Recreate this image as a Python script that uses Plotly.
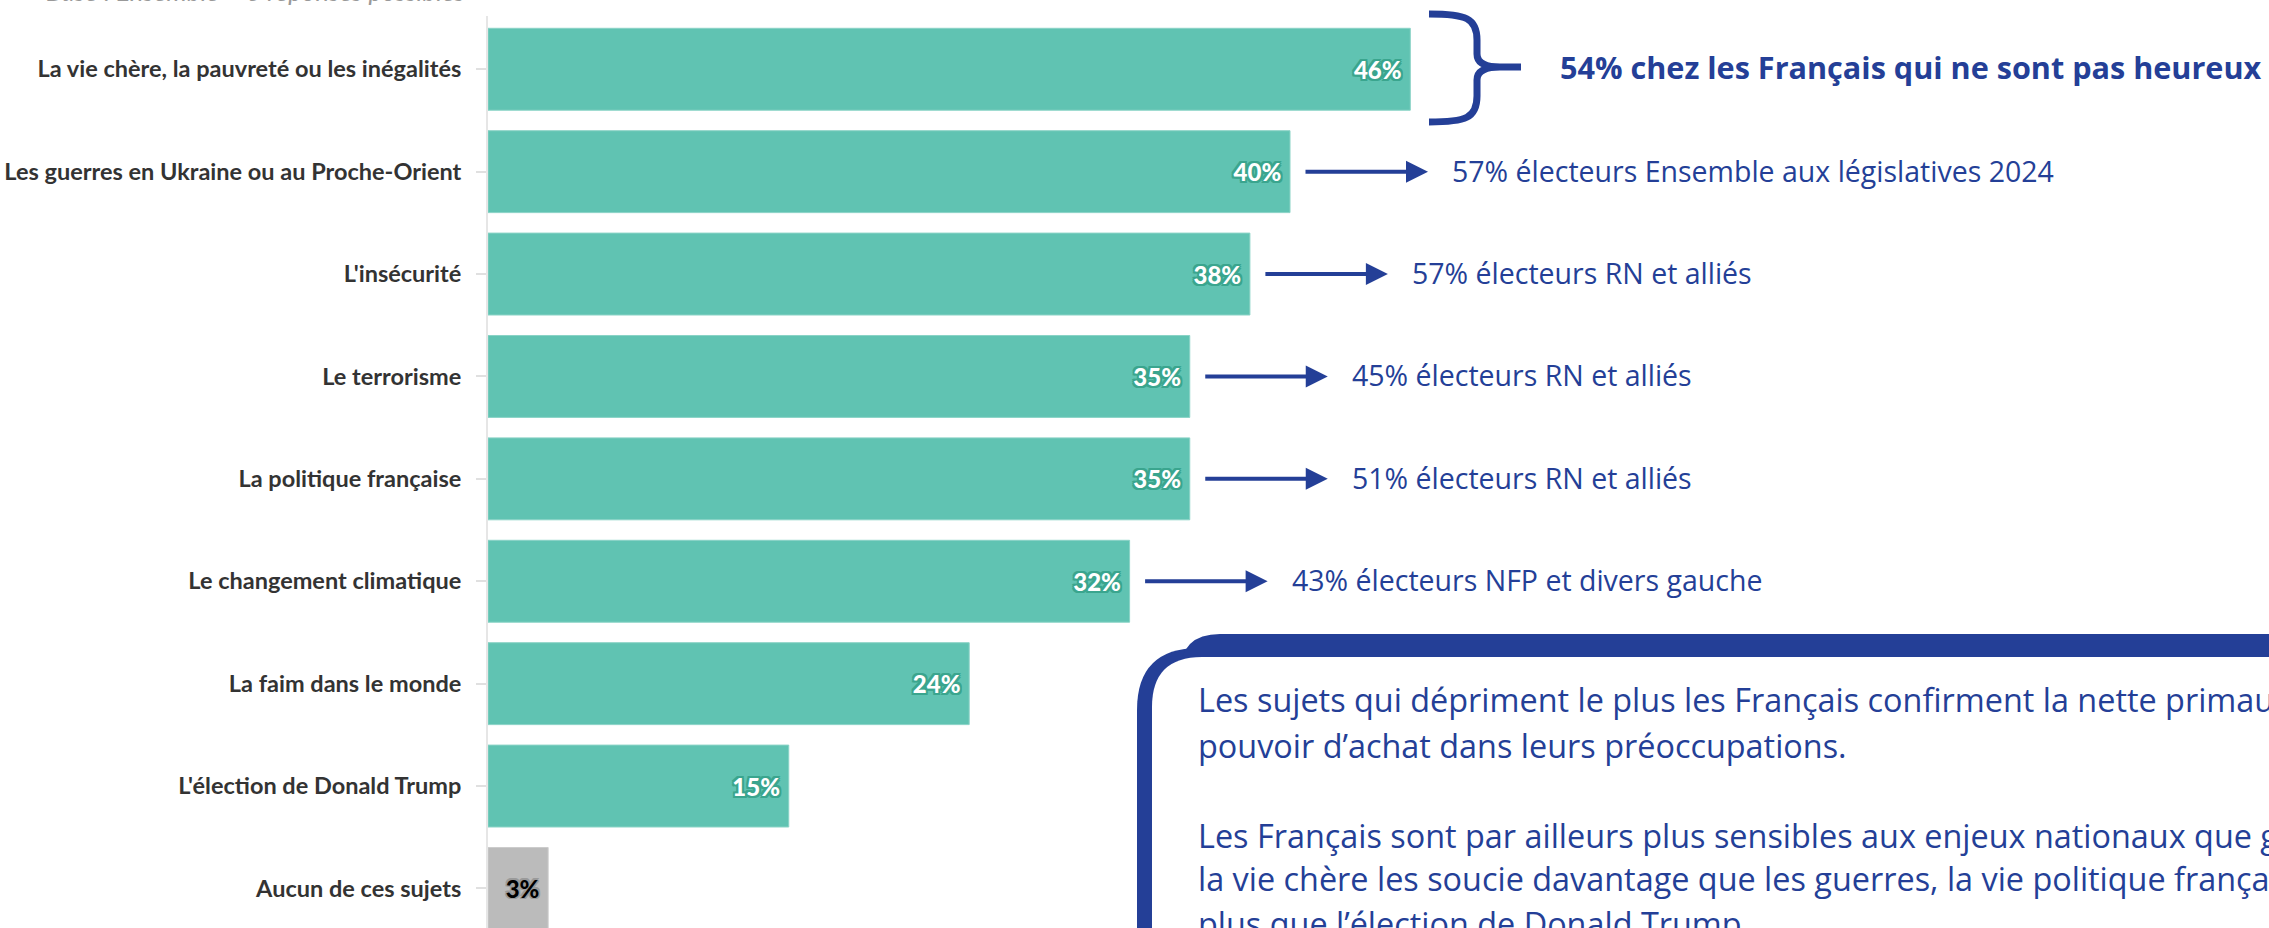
import plotly.graph_objects as go

# ---------------- data ----------------
categories = [
    "La vie chère, la pauvreté ou les inégalités",
    "Les guerres en Ukraine ou au Proche-Orient",
    "L'insécurité",
    "Le terrorisme",
    "La politique française",
    "Le changement climatique",
    "La faim dans le monde",
    "L'élection de Donald Trump",
    "Aucun de ces sujets",
]
values = [46, 40, 38, 35, 35, 32, 24, 15, 3]
highlight = [True, True, True, True, True, True, True, True, False]

callout_cats = categories[1:6]
callout_vals = values[1:6]
callout_texts = [
    "57% électeurs Ensemble aux législatives 2024",
    "57% électeurs RN et alliés",
    "45% électeurs RN et alliés",
    "51% électeurs RN et alliés",
    "43% électeurs NFP et divers gauche",
]
brace_text = "54% chez les Français qui ne sont pas heureux"
subtitle = "Base : Ensemble – 3 réponses possibles"
box_lines = [
    "Les sujets qui dépriment le plus les Français confirment la nette primauté du",
    "pouvoir d’achat dans leurs préoccupations.",
    "Les Français sont par ailleurs plus sensibles aux enjeux nationaux que globaux :",
    "la vie chère les soucie davantage que les guerres, la vie politique française",
    "plus que l’élection de Donald Trump.",
]

# ---------------- style / layout constants ----------------
W, H = 2269, 928
ML, MT = 488, 16
PW, PH = W - ML, H - MT
PX_PER_PCT = 20.05
TEAL = "#60C3B2"
GREY = "#BBBBBB"
NAVY = "#243F97"
LABEL = "#333333"
NOTE_FONT = "Open Sans"


def px(xp):
    return (xp - ML) / PW


def py(yp):
    return 1 - (yp - MT) / PH


def P(p):
    return f"{px(p[0]):.5f},{py(p[1]):.5f}"


teal_c = [c for c, h in zip(categories, highlight) if h]
teal_v = [v for v, h in zip(values, highlight) if h]
grey_c = [c for c, h in zip(categories, highlight) if not h]
grey_v = [v for v, h in zip(values, highlight) if not h]

def outline(col, d):
    return ", ".join(f"{a}px {b}px 0 {col}" for a in (-d, 0, d) for b in (-d, 0, d) if (a, b) != (0, 0))

fig = go.Figure()
fig.add_trace(go.Bar(
    y=teal_c, x=teal_v, orientation="h",
    marker=dict(color=TEAL, line=dict(color="#8AD3C6", width=1)),
    text=[f"{v}%\u00a0" for v in teal_v], textposition="inside",
    insidetextanchor="end", constraintext="none",
    textfont=dict(family="Lato", size=24, color="white", weight=900,
                  shadow=outline("#3AA58E", 2)),
    hoverinfo="skip", showlegend=False,
))
fig.add_trace(go.Bar(
    y=grey_c, x=grey_v, orientation="h",
    marker=dict(color=GREY, line=dict(color="#CCCCCC", width=1)),
    text=[f"{v}%\u00a0" for v in grey_v], textposition="inside",
    insidetextanchor="end", constraintext="none",
    textfont=dict(family="Lato", size=24, color="black", weight=900,
                  shadow=outline("#9A9A9A", 1.5)),
    hoverinfo="skip", showlegend=False,
))

shapes = []
annotations = []

# callout arrows + texts
for c, v, t in zip(callout_cats, callout_vals, callout_texts):
    annotations.append(dict(
        x=v, y=c, xref="x", yref="y", text="", showarrow=True,
        ax=-124, ay=0, axref="pixel", ayref="pixel", xshift=138,
        arrowhead=2, arrowsize=1.1, arrowwidth=4, arrowcolor=NAVY, standoff=0,
    ))
    annotations.append(dict(
        x=v, y=c, xref="x", yref="y", text=t, showarrow=False,
        xanchor="left", yanchor="middle", xshift=160, yshift=1,
        font=dict(family=NOTE_FONT, size=28.5, color=NAVY),
    ))

# brace for first bar
brace_path = (
    f"M {P((1429,14))} C {P((1466,14))} {P((1477,18))} {P((1477,40))} "
    f"L {P((1477,54))} C {P((1477,63))} {P((1486,67))} {P((1500,67))} L {P((1521,67))} "
    f"M {P((1500,67))} C {P((1486,67))} {P((1477,71))} {P((1477,80))} "
    f"L {P((1477,96))} C {P((1477,118))} {P((1466,122))} {P((1429,122))}"
)
shapes.append(dict(type="path", xref="paper", yref="paper", path=brace_path,
                   line=dict(color=NAVY, width=7), layer="above"))
annotations.append(dict(
    x=values[0], y=categories[0], xref="x", yref="y", text=brace_text,
    showarrow=False, xanchor="left", yanchor="middle", xshift=148, yshift=2,
    font=dict(family=NOTE_FONT, size=30.6, color=NAVY, weight="bold"),
))

# rounded text box (extends past the window edges)
def rrect(x0, y0, x1, y1, r):
    return (f"M {P((x0, y0 + r))} Q {P((x0, y0))} {P((x0 + r, y0))} "
            f"L {P((x1, y0))} L {P((x1, y1))} L {P((x0, y1))} Z")
shapes.append(dict(type="path", xref="paper", yref="paper",
                   path=rrect(1137, 648, 2400, 1000, 62),
                   fillcolor=NAVY, line=dict(width=0), layer="above"))
shapes.append(dict(type="path", xref="paper", yref="paper",
                   path=rrect(1180, 634, 2400, 670, 40),
                   fillcolor=NAVY, line=dict(width=0), layer="above"))
shapes.append(dict(type="path", xref="paper", yref="paper",
                   path=rrect(1152, 657, 2400, 1000, 50),
                   fillcolor="white", line=dict(width=0), layer="above"))

box_baselines = [711, 757, 847, 890, 935]
for t, b in zip(box_lines, box_baselines):
    annotations.append(dict(
        x=px(1196), y=py(b - 12), xref="paper", yref="paper", text=t,
        showarrow=False, xanchor="left", yanchor="middle",
        font=dict(family=NOTE_FONT, size=32.4, color=NAVY),
    ))

# subtitle (mostly cut off by the top edge)
annotations.append(dict(
    x=px(44), y=py(9), xref="paper", yref="paper", text=subtitle,
    showarrow=False, xanchor="left", yanchor="bottom",
    font=dict(family="Lato", size=26, color="#999999", style="italic"),
))

fig.update_layout(
    width=W, height=H,
    margin=dict(l=ML, r=0, t=MT, b=0, pad=0),
    paper_bgcolor="white", plot_bgcolor="white",
    barmode="overlay", bargap=0.2,
    shapes=shapes, annotations=annotations,
    xaxis=dict(range=[0, PW / PX_PER_PCT], visible=False, fixedrange=True),
    yaxis=dict(
        categoryorder="array", categoryarray=categories,
        range=[-0.52 + PH / 102.4, -0.52],
        showline=True, linecolor="#E6E6E6", linewidth=2,
        ticks="outside", ticklen=10, tickcolor="#E0E0E0", tickwidth=2,
        ticklabelstandoff=10, showgrid=False, zeroline=False,
        tickfont=dict(family="Lato", size=23.5, color=LABEL, weight="bold"),
        automargin=False, fixedrange=True,
    ),
    font=dict(family="Lato"),
)

fig.write_html(
    "out.html",
    config={"displayModeBar": False},
    post_script="document.body.style.margin='0';document.body.style.overflow='hidden';",
)
